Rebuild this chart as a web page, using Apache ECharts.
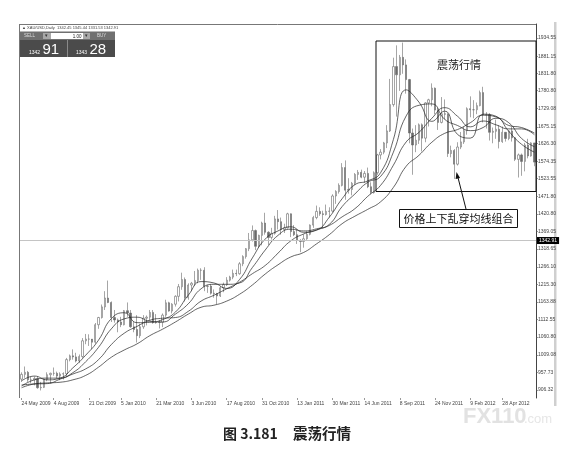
<!DOCTYPE html>
<html><head><meta charset="utf-8">
<script src="https://cdn.jsdelivr.net/npm/echarts@6/dist/echarts.min.js"></script>
<style>html,body{margin:0;padding:0;background:#fff}#c{width:583px;height:456px}</style>
</head><body><div id="c"></div>
<script>
// Weekly bars: [open, close, low, high]
const candles = [
[938,952,930,958],[952,958,942,975],[958,936,930,962],[936,936,926,945],[936,940,920,946],
[940,913,910,945],[913,914,905,930],[914,937,912,940],[937,951,932,958],[951,955,926,957],
[955,955,948,972],[955,947,940,960],[947,953,935,958],[953,954,937,958],[954,995,945,1000],
[995,1006,990,1010],[1006,1003,995,1025],[1003,991,987,1015],[991,1004,985,1010],[1004,1050,1000,1058],
[1050,1055,1040,1070],[1055,1055,1035,1069],[1055,1046,1025,1052],[1046,1097,1042,1102],[1097,1118,1085,1120],
[1118,1149,1115,1156],[1149,1175,1140,1195],[1175,1162,1160,1226],[1162,1118,1105,1165],[1118,1111,1103,1140],
[1111,1105,1075,1115],[1105,1097,1090,1120],[1097,1138,1095,1140],[1138,1131,1120,1162],[1131,1091,1088,1140],
[1091,1083,1075,1105],[1083,1065,1045,1125],[1065,1091,1058,1100],[1091,1116,1085,1125],[1116,1119,1095,1124],
[1119,1133,1110,1140],[1133,1103,1100,1140],[1103,1105,1100,1128],[1105,1104,1086,1110],[1104,1125,1090,1130],
[1125,1161,1120,1170],[1161,1137,1135,1164],[1137,1157,1130,1160],[1157,1180,1150,1183],[1180,1208,1165,1216],
[1208,1229,1199,1249],[1229,1176,1165,1235],[1176,1213,1170,1218],[1213,1218,1195,1222],[1218,1226,1210,1254],
[1226,1256,1218,1261],[1256,1256,1228,1262],[1256,1209,1195,1265],[1209,1210,1190,1212],[1210,1189,1185,1215],
[1189,1188,1176,1200],[1188,1181,1157,1190],[1181,1205,1178,1210],[1205,1214,1192,1220],[1214,1227,1210,1236],
[1227,1236,1223,1240],[1236,1247,1230,1258],[1247,1246,1239,1258],[1246,1275,1243,1280],[1275,1296,1268,1300],
[1296,1319,1290,1321],[1319,1345,1312,1365],[1345,1372,1340,1387],[1372,1326,1315,1375],[1326,1358,1322,1360],
[1358,1394,1329,1398],[1394,1367,1360,1424],[1367,1352,1330,1370],[1352,1364,1346,1380],[1364,1406,1360,1415],
[1406,1398,1375,1432],[1398,1375,1360,1410],[1375,1380,1365,1392],[1380,1421,1378,1424],[1421,1369,1353,1422],
[1369,1360,1356,1388],[1360,1343,1333,1375],[1343,1340,1309,1347],[1340,1348,1322,1361],[1348,1361,1345,1370],
[1361,1388,1358,1390],[1388,1410,1380,1415],[1410,1428,1405,1445],[1428,1421,1415,1440],[1421,1419,1380,1430],
[1419,1428,1416,1448],[1428,1429,1410,1440],[1429,1473,1425,1478],[1473,1486,1450,1490],[1486,1504,1480,1510],
[1504,1556,1501,1569],[1556,1490,1462,1577],[1490,1492,1480,1525],[1492,1510,1475,1514],[1510,1536,1505,1540],
[1536,1542,1520,1549],[1542,1528,1525,1550],[1528,1539,1511,1546],[1539,1500,1496,1556],[1500,1483,1478,1513],
[1483,1541,1480,1545],[1541,1593,1535,1596],[1593,1601,1580,1610],[1601,1628,1595,1631],[1628,1663,1613,1680],
[1663,1740,1660,1815],[1740,1851,1734,1877],[1851,1827,1705,1913],[1827,1878,1780,1885],[1878,1856,1830,1921],
[1856,1813,1772,1872],[1813,1657,1627,1815],[1657,1622,1535,1670],[1622,1636,1601,1680],[1636,1681,1625,1685],
[1681,1642,1603,1685],[1642,1745,1630,1747],[1745,1754,1676,1757],[1754,1788,1735,1802],[1788,1724,1712,1790],
[1724,1688,1666,1730],[1688,1713,1685,1762],[1713,1712,1696,1755],[1712,1597,1587,1715],[1597,1606,1586,1620],
[1606,1566,1523,1610],[1566,1616,1562,1630],[1616,1631,1610,1660],[1631,1664,1625,1675],[1664,1728,1652,1732],
[1728,1725,1703,1764],[1725,1725,1700,1753],[1725,1737,1712,1746],[1737,1775,1735,1781],[1775,1710,1688,1792],
[1710,1710,1670,1718],[1710,1659,1635,1715],[1659,1662,1627,1673],[1662,1668,1640,1696],[1668,1632,1612,1680],
[1632,1659,1628,1676],[1659,1641,1632,1660],[1641,1663,1636,1665],[1663,1643,1632,1675],[1643,1580,1575,1645],
[1580,1593,1527,1597],[1593,1574,1532,1597],[1574,1622,1545,1628],[1622,1590,1583,1640],[1590,1628,1588,1630],
[1628,1572,1560,1628]
];
const categories = candles.map((d, i) => String(i));

// Moving-average lines, one value every maStep bars
const maStep = 4;
const maFast = [933,947,936,941,971,1008,1052,1115,1132,1103,1104,1112,1134,1183,1223,1219,1203,1229,1292,1347,1371,1383,1367,1373,1411,1465,1506,1517,1541,1638,1783,1747,1691,1721,1653,1642,1712,1706,1662,1624,1601];
const maMid = [918,936,941,941,957,989,1031,1085,1114,1119,1107,1105,1128,1158,1202,1215,1215,1219,1264,1315,1358,1376,1371,1377,1390,1442,1479,1513,1530,1601,1707,1738,1742,1697,1679,1664,1673,1700,1687,1641,1617];
const maSlow = [921,924,925,938,953,968,995,1039,1072,1092,1110,1116,1118,1136,1166,1183,1202,1221,1246,1270,1306,1342,1362,1374,1387,1412,1436,1472,1504,1563,1631,1659,1700,1731,1706,1675,1692,1681,1669,1669,1652];
const maLong = [913,924,927,929,936,949,973,1002,1023,1041,1065,1084,1105,1128,1148,1154,1166,1186,1213,1245,1272,1295,1308,1333,1360,1392,1414,1434,1456,1498,1560,1592,1630,1656,1667,1687,1709,1704,1679,1673,1657];

// Tick labels
const yTicks = [906.32,957.73,1009.08,1060.80,1112.55,1163.88,1215.30,1266.10,1318.65,1369.05,1420.80,1471.80,1523.55,1574.35,1626.30,1675.15,1729.08,1780.80,1831.80,1881.15,1934.55];
const xTickIdx = [0,10,21,31,42,53,64,75,86,97,107,118,129,140,150];
const xTickLabels = ['24 May 2009','4 Aug 2009','21 Oct 2009','5 Jan 2010','21 Mar 2010','3 Jun 2010','17 Aug 2010','31 Oct 2010','13 Jan 2011','30 Mar 2011','14 Jun 2011','8 Sep 2011','24 Nov 2011','9 Feb 2012','28 Apr 2012'];
const currentPrice = 1342.91;
const yMin = 882.95, yMax = 1975.4;

const chart = echarts.init(document.getElementById('c'), null, {renderer: 'canvas'});
const maSeries = (arr) => ({
  type: 'line', data: arr.map((v, k) => [k * maStep, v]), symbol: 'none', smooth: true,
  lineStyle: {color: '#222', width: 0.7}, z: 3, silent: true
});
const txt = (x, y, text, size, fill, extra) => ({type: 'text', x: x, y: y, style: Object.assign({text: text, fontSize: size, fill: fill, fontFamily: 'Liberation Sans'}, extra || {})});

chart.setOption({
  animation: false,
  backgroundColor: '#fff',
  grid: {left: 20, right: 47, top: 24, bottom: 58},
  xAxis: {
    type: 'category', data: categories, boundaryGap: true,
    axisLine: {show: false},
    axisTick: {show: true, alignWithLabel: true, interval: (i) => xTickIdx.includes(i), length: 2, lineStyle: {color: '#555', width: 0.6}},
    axisLabel: {interval: (i) => xTickIdx.includes(i), formatter: (v, i) => xTickLabels[xTickIdx.indexOf(i)] || '', fontSize: 5, color: '#444', align: 'left', margin: 3, fontFamily: 'Liberation Sans'},
    splitLine: {show: false}
  },
  yAxis: {
    type: 'value', position: 'right', min: yMin, max: yMax, scale: true,
    axisLine: {show: true, lineStyle: {color: '#444', width: 1}},
    axisTick: {show: true, customValues: yTicks, length: 2, lineStyle: {color: '#555', width: 0.6}},
    axisLabel: {customValues: yTicks, formatter: (v) => v.toFixed(2), fontSize: 5, color: '#444', margin: 2, fontFamily: 'Liberation Sans'},
    splitLine: {show: false}
  },
  series: [
    {
      type: 'candlestick', data: candles, barWidth: 1.8, z: 2,
      itemStyle: {color: '#fff', color0: '#6a6a6a', borderColor: '#6a6a6a', borderColor0: '#6a6a6a', borderWidth: 0.6},
      markLine: {
        symbol: 'none', silent: true, animation: false,
        lineStyle: {color: '#c4c4c4', type: 'solid', width: 1},
        label: {position: 'end', distance: 1, formatter: currentPrice.toFixed(2), backgroundColor: '#000', color: '#fff', fontSize: 5, padding: [1, 2], fontFamily: 'Liberation Sans'},
        data: [{yAxis: currentPrice}]
      }
    },
    maSeries(maFast), maSeries(maMid), maSeries(maSlow), maSeries(maLong)
  ],
  graphic: [
    {type: 'rect', shape: {x: 554, y: 22, width: 2.5, height: 384}, style: {fill: '#cfcfcf'}},
    {type: 'line', shape: {x1: 19, y1: 24.5, x2: 536, y2: 24.5}, style: {stroke: '#777', lineWidth: 1}},
    {type: 'line', shape: {x1: 19.5, y1: 24, x2: 19.5, y2: 398}, style: {stroke: '#777', lineWidth: 1}},
    txt(22, 25.8, '\u25B2 XAU/USD,Daily  1342.45 1345.44 1331.53 1342.91', 4, '#444'),
    // trade widget
    {type: 'rect', shape: {x: 20, y: 31.5, width: 95, height: 8.5}, style: {fill: '#707070'}},
    {type: 'rect', shape: {x: 20, y: 40, width: 95, height: 17}, style: {fill: '#4b4b4b'}},
    {type: 'line', shape: {x1: 67.5, y1: 40, x2: 67.5, y2: 57}, style: {stroke: '#8a8a8a', lineWidth: 1}},
    txt(24, 33.6, 'SELL', 4.5, '#ddd'),
    {type: 'rect', shape: {x: 43, y: 33, width: 8, height: 6}, style: {fill: '#a8a8a8'}},
    txt(45.2, 33.4, '\u25BE', 5, '#333'),
    {type: 'rect', shape: {x: 51, y: 33, width: 32, height: 6}, style: {fill: '#fff'}},
    txt(81.5, 33.8, '1.00', 4.5, '#222', {align: 'right'}),
    {type: 'rect', shape: {x: 83, y: 33, width: 7, height: 6}, style: {fill: '#a8a8a8'}},
    txt(84.7, 33.4, '\u25BE', 5, '#333'),
    txt(97, 33.6, 'BUY', 4.5, '#ddd'),
    txt(29, 50, '1342', 5, '#fff'),
    txt(42.5, 42, '91', 15, '#fff'),
    txt(76, 50, '1343', 5, '#fff'),
    txt(89.5, 42, '28', 15, '#fff'),
    // annotations
    {type: 'rect', shape: {x: 376, y: 41, width: 160, height: 150.5}, style: {fill: 'none', stroke: '#111', lineWidth: 1}, z: 10},
    {type: 'text', x: 459, y: 65, style: {text: '震荡行情', fontSize: 11, fill: '#222', fontFamily: 'Noto Sans CJK SC', align: 'center', verticalAlign: 'middle'}, z: 10},
    {type: 'rect', shape: {x: 399.5, y: 209.5, width: 118, height: 18}, style: {fill: '#fff', stroke: '#111', lineWidth: 1}, z: 10},
    {type: 'text', x: 458.5, y: 218.7, style: {text: '价格上下乱穿均线组合', fontSize: 11, fill: '#111', fontFamily: 'Noto Sans CJK SC', align: 'center', verticalAlign: 'middle'}, z: 11},
    {type: 'line', shape: {x1: 466, y1: 209, x2: 457.6, y2: 176}, style: {stroke: '#111', lineWidth: 1}, z: 10},
    {type: 'polygon', shape: {points: [[456.5, 172], [460.1, 178], [455.6, 179]]}, style: {fill: '#111'}, z: 10},
    // caption
    {type: 'text', x: 223, y: 433.5, style: {text: '图 3.181', fontSize: 14, fontWeight: 'bold', fill: '#222', fontFamily: 'Noto Sans CJK SC', verticalAlign: 'middle'}},
    {type: 'text', x: 293, y: 433.5, style: {text: '震荡行情', fontSize: 14.5, fontWeight: 'bold', fill: '#222', fontFamily: 'Noto Sans CJK SC', verticalAlign: 'middle'}},
    // watermark
    {type: 'text', x: 463, y: 406, style: {text: 'FX110', fontSize: 22, fontWeight: 'bold', fill: '#e2e2e2', fontFamily: 'Liberation Sans'}},
    {type: 'text', x: 524, y: 413, style: {text: '.com', fontSize: 13, fill: '#e6e6e6', fontFamily: 'Liberation Sans'}}
  ]
});
</script></body></html>
